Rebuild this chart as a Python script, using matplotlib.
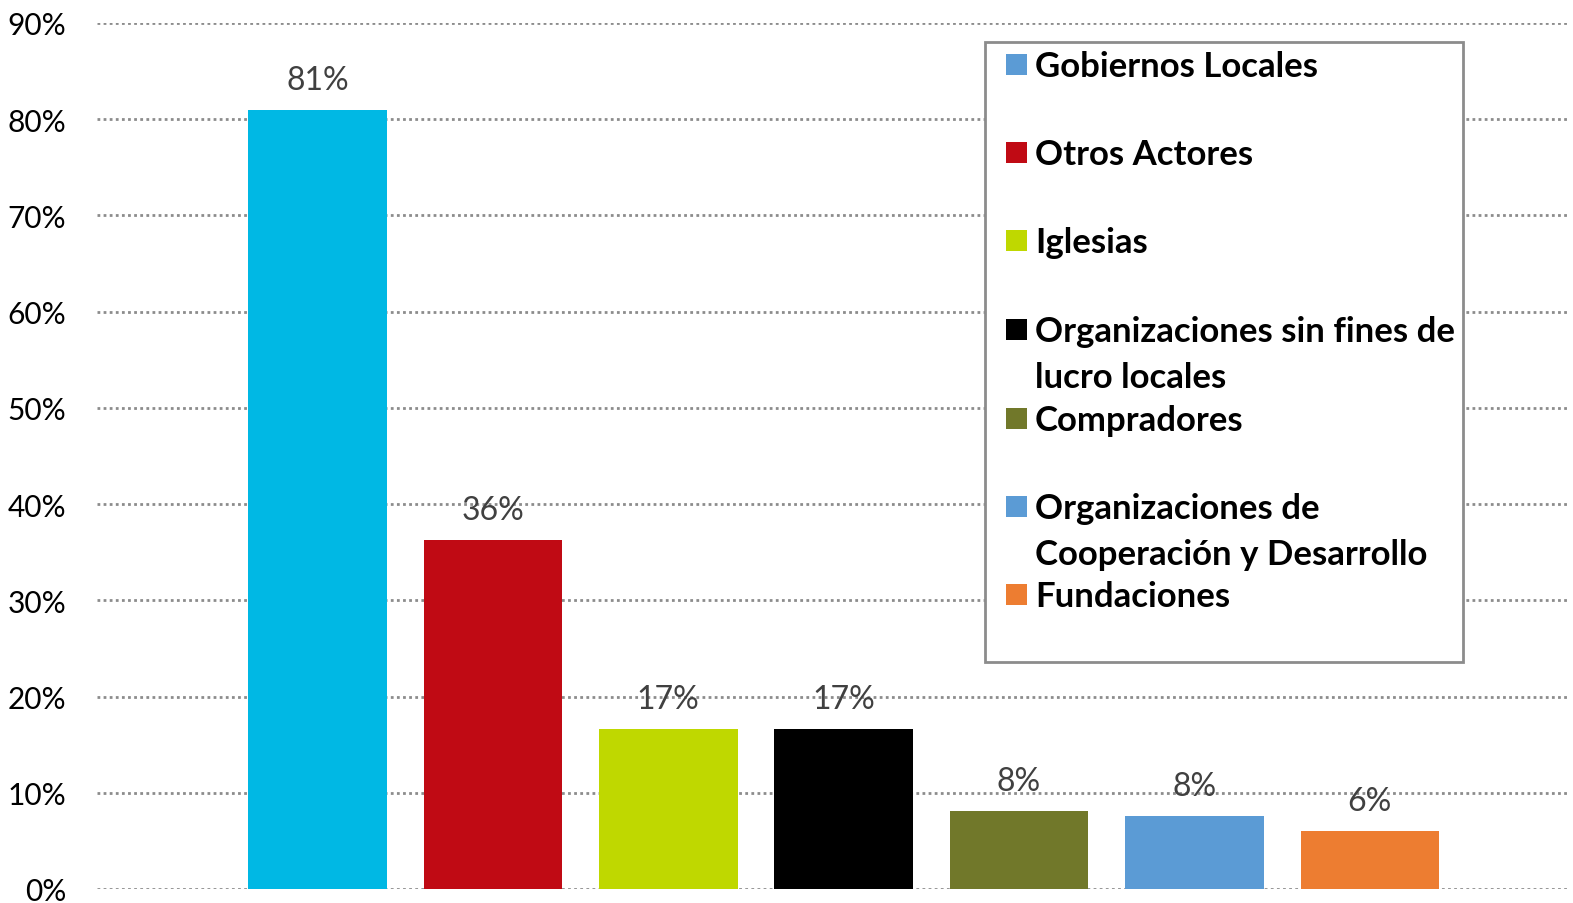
import matplotlib
matplotlib.use("Agg")
import matplotlib.pyplot as plt
from matplotlib.patches import Rectangle

categories = ["Gobiernos Locales", "Otros Actores", "Iglesias",
              "Organizaciones sin fines de\nlucro locales", "Compradores",
              "Organizaciones de\nCooperación y Desarrollo", "Fundaciones"]
values = [0.81, 0.363, 0.166, 0.166, 0.081, 0.076, 0.060]
bar_colors = ["#00B8E4", "#C00A14", "#BFD800", "#000000", "#71782A", "#5B9BD5", "#ED7D31"]
legend_colors = ["#5B9BD5", "#C00A14", "#BFD800", "#000000", "#71782A", "#5B9BD5", "#ED7D31"]
yticks = [0, 0.1, 0.2, 0.3, 0.4, 0.5, 0.6, 0.7, 0.8, 0.9]
ytick_labels = ["0%", "10%", "20%", "30%", "40%", "50%", "60%", "70%", "80%", "90%"]

W, H = 1573, 904
fig = plt.figure(figsize=(W / 100, H / 100), dpi=100)
FONT = "Lato"

def fx(px):
    return px / W

def fy(py):
    return 1 - py / H

ax = fig.add_axes([fx(97), fy(890), fx(1568) - fx(97), fy(24) - fy(890)])
x = list(range(len(values)))
ax.bar(x, values, width=0.79, color=bar_colors, zorder=2)
ax.set_xlim(-1.257, 7.13)
ax.set_ylim(0, 0.9)
ax.set_yticks(yticks)
ax.set_yticklabels(ytick_labels, fontsize=21.5, family=FONT, color="#000000")
ax.set_xticks([])
ax.tick_params(axis="y", length=0, pad=22)
for s in ax.spines.values():
    s.set_visible(False)
ax.grid(axis="y", color="#8C8C8C", linestyle=(0, (1, 1.2)), linewidth=2.0, zorder=1)
ax.set_axisbelow(True)
ax.patch.set_alpha(0)

for xi, v in zip(x, values):
    ax.annotate(f"{round(v * 100)}%", (xi, v), xytext=(0, 30), textcoords="offset pixels",
                ha="center", va="center", fontsize=23, family=FONT, color="#404040", zorder=4)

# legend box
fig.patches.append(Rectangle((fx(985), fy(663)), fx(1463) - fx(985), fy(43) - fy(663),
                             transform=fig.transFigure, facecolor="white", edgecolor="#8C8C8C",
                             linewidth=2, zorder=5))
baselines = [77, 165, 253, 342, 431, 519, 607]
line_gap = 46
for lab, col, b in zip(categories, legend_colors, baselines):
    fig.patches.append(Rectangle((fx(1006), fy(b - 1)), fx(21), 21 / H,
                                 transform=fig.transFigure, facecolor=col, edgecolor="none", zorder=6))
    for k, line in enumerate(lab.split("\n")):
        fig.text(fx(1035), fy(b + k * line_gap), line, fontsize=25, fontweight="bold",
                 family=FONT, color="#000000", ha="left", va="baseline", zorder=7)

fig.savefig("out.png", dpi=100)
